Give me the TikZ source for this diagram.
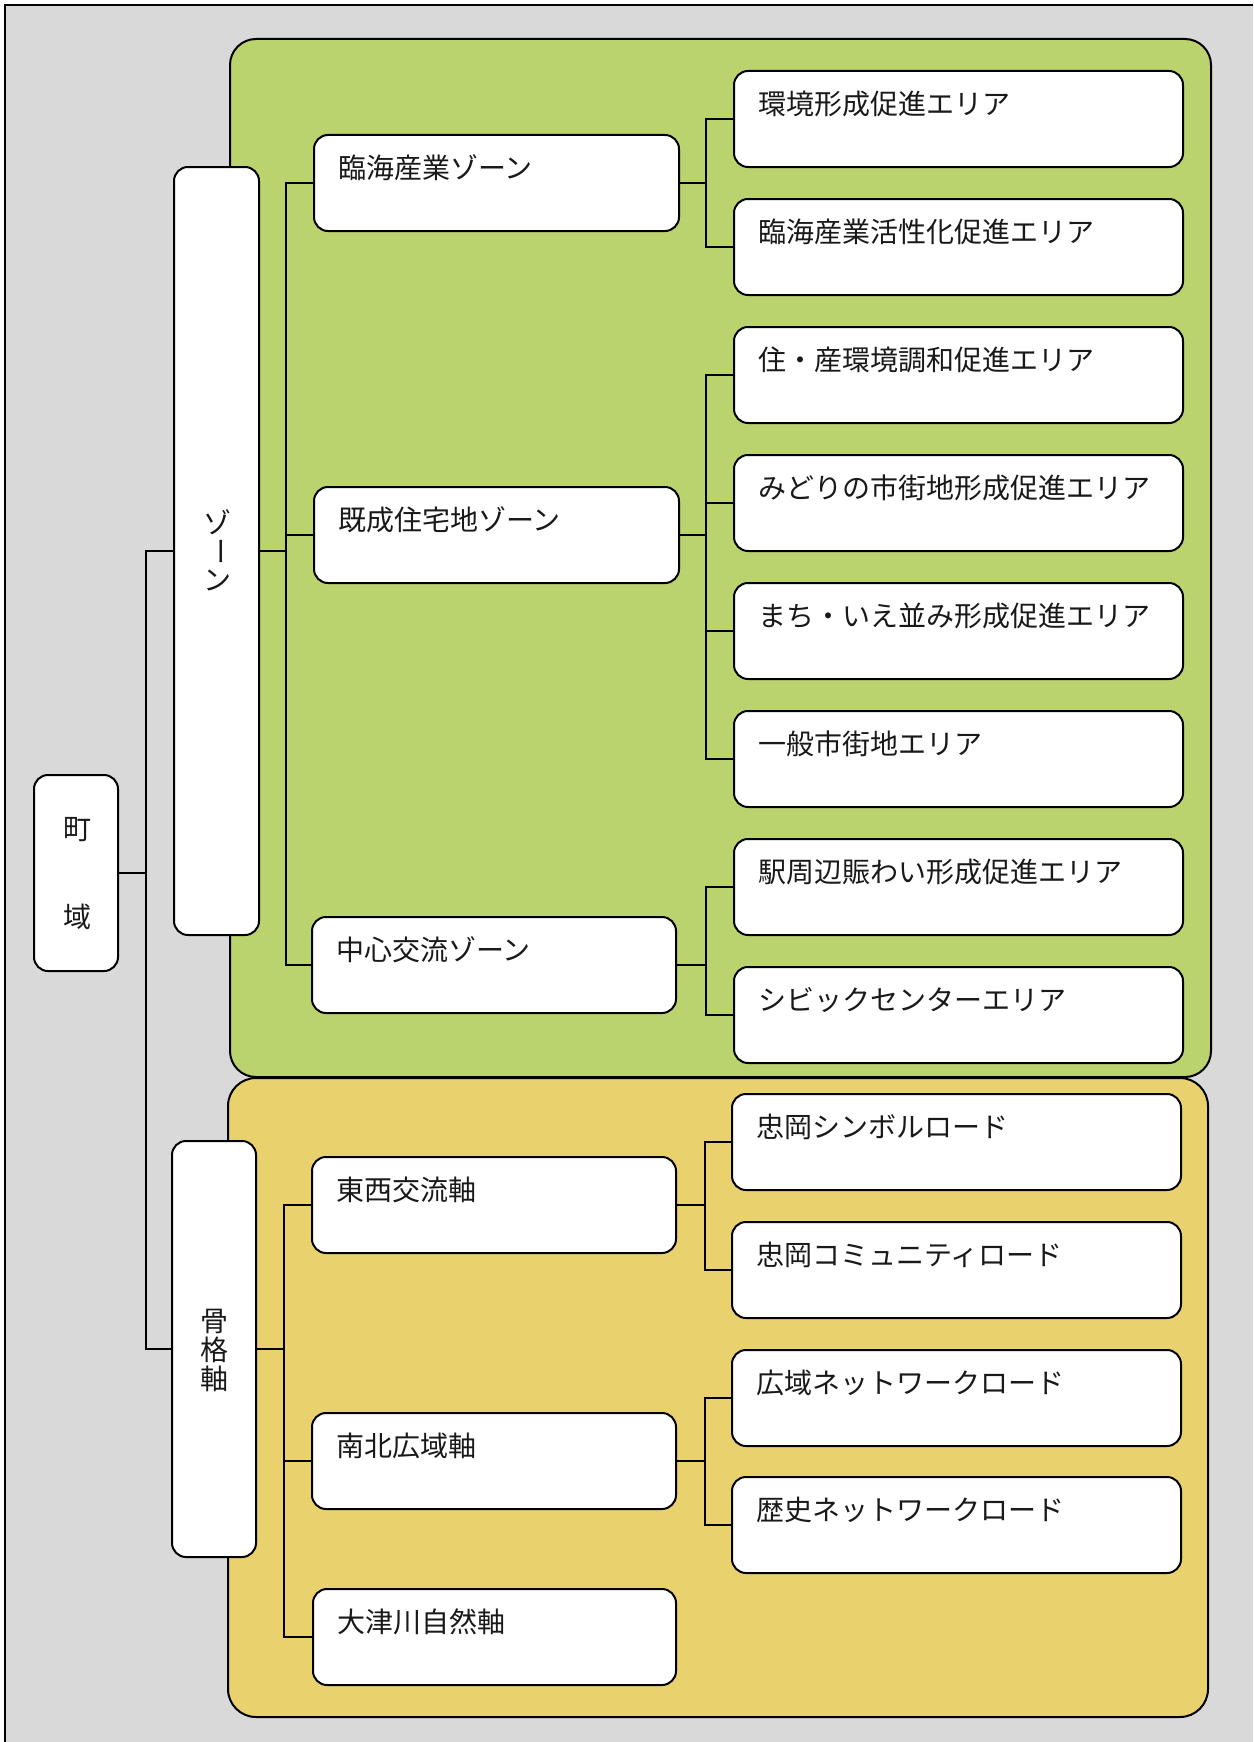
\documentclass[tikz,border=0pt]{standalone}
\usepackage{fontspec}
\newfontfamily\jp{Noto Sans CJK JP}
\definecolor{bggray}{RGB}{217,217,217}
\definecolor{zonegreen}{RGB}{187,211,110}
\definecolor{axisyellow}{RGB}{233,210,110}
\tikzset{
  bx/.style={draw=black, fill=white, line width=2pt, rounded corners=14pt, inner sep=0pt, outer sep=0pt, anchor=north west},
  lbl/.style={font=\jp\fontsize{28}{28}\selectfont, inner sep=0pt, anchor=west, text=black!90},
  vch/.style={font=\jp\fontsize{28}{28}\selectfont, inner sep=0pt, text=black!90},
  conn/.style={draw=black, line width=2pt},
  panel/.style={draw=black, line width=2pt},
}
\begin{document}
\begin{tikzpicture}[x=1pt,y=-1pt]
\useasboundingbox (0,0) rectangle (1253,1742);
% background
\fill[bggray] (5,5) rectangle (1253,1742);
\draw[line width=2.5pt] (5,1742) -- (5,5) -- (1253,5);
% panels
\draw[panel, fill=zonegreen, rounded corners=26pt] (230,39) rectangle (1211,1077);
\draw[panel, fill=axisyellow, rounded corners=28pt] (228,1078) rectangle (1208,1717);

% left column
\node[bx, minimum width=84pt, minimum height=196pt] (town) at (34,775) {};
\node[bx, minimum width=85pt, minimum height=768pt] (zone) at (174,167) {};
\node[bx, minimum width=84pt, minimum height=416pt] (kokaku) at (172,1141) {};
\node[vch] (t-town1) at (77,830) {町};
\node[vch] (t-town2) at (77,917) {域};
\node[vch] (t-zone1) at (217,522) {ゾ};
\node[vch, rotate=-90] (t-zone2) at (217,551) {ー};
\node[vch] (t-zone3) at (217,580) {ン};
\node[vch] (t-kok1) at (214,1321) {骨};
\node[vch] (t-kok2) at (214,1350) {格};
\node[vch] (t-kok3) at (214,1379) {軸};

% middle column
\node[bx, minimum width=365pt, minimum height=96pt] (m1) at (314,135) {};
\node[bx, minimum width=365pt, minimum height=96pt] (m2) at (314,487) {};
\node[bx, minimum width=364pt, minimum height=96pt] (m3) at (312,917) {};
\node[bx, minimum width=364pt, minimum height=96pt] (m4) at (312,1157) {};
\node[bx, minimum width=364pt, minimum height=96pt] (m5) at (312,1413) {};
\node[bx, minimum width=363pt, minimum height=96pt] (m6) at (313,1589) {};

% right column
\node[bx, minimum width=449pt, minimum height=96pt] (r1) at (734,71) {};
\node[bx, minimum width=449pt, minimum height=96pt] (r2) at (734,199) {};
\node[bx, minimum width=449pt, minimum height=96pt] (r3) at (734,327) {};
\node[bx, minimum width=449pt, minimum height=96pt] (r4) at (734,455) {};
\node[bx, minimum width=449pt, minimum height=96pt] (r5) at (734,583) {};
\node[bx, minimum width=449pt, minimum height=96pt] (r6) at (734,711) {};
\node[bx, minimum width=449pt, minimum height=96pt] (r7) at (734,839) {};
\node[bx, minimum width=449pt, minimum height=96pt] (r8) at (734,967) {};
\node[bx, minimum width=449pt, minimum height=96pt] (r9) at (732,1094) {};
\node[bx, minimum width=449pt, minimum height=96pt] (r10) at (732,1222) {};
\node[bx, minimum width=449pt, minimum height=96pt] (r11) at (732,1350) {};
\node[bx, minimum width=449pt, minimum height=96pt] (r12) at (732,1477) {};

% labels
\node[lbl] (tm1) at ([shift={(24,33)}]m1.north west) {臨海産業ゾーン};
\node[lbl] (tm2) at ([shift={(24,33)}]m2.north west) {既成住宅地ゾーン};
\node[lbl] (tm3) at ([shift={(24,33)}]m3.north west) {中心交流ゾーン};
\node[lbl] (tm4) at ([shift={(24,33)}]m4.north west) {東西交流軸};
\node[lbl] (tm5) at ([shift={(24,33)}]m5.north west) {南北広域軸};
\node[lbl] (tm6) at ([shift={(24,33)}]m6.north west) {大津川自然軸};
\node[lbl] (tr1) at ([shift={(24,33)}]r1.north west) {環境形成促進エリア};
\node[lbl] (tr2) at ([shift={(24,33)}]r2.north west) {臨海産業活性化促進エリア};
\node[lbl] (tr3) at ([shift={(24,33)}]r3.north west) {住・産環境調和促進エリア};
\node[lbl] (tr4) at ([shift={(24,33)}]r4.north west) {みどりの市街地形成促進エリア};
\node[lbl] (tr5) at ([shift={(24,33)}]r5.north west) {まち・いえ並み形成促進エリア};
\node[lbl] (tr6) at ([shift={(24,33)}]r6.north west) {一般市街地エリア};
\node[lbl] (tr7) at ([shift={(24,33)}]r7.north west) {駅周辺賑わい形成促進エリア};
\node[lbl] (tr8) at ([shift={(24,33)}]r8.north west) {シビックセンターエリア};
\node[lbl] (tr9) at ([shift={(24,33)}]r9.north west) {忠岡シンボルロード};
\node[lbl] (tr10) at ([shift={(24,33)}]r10.north west) {忠岡コミュニティロード};
\node[lbl] (tr11) at ([shift={(24,33)}]r11.north west) {広域ネットワークロード};
\node[lbl] (tr12) at ([shift={(24,33)}]r12.north west) {歴史ネットワークロード};

% junction coordinates
\coordinate (j0) at (146,873);
\coordinate (j1) at (286,551);
\coordinate (j2) at (706,183);
\coordinate (j3) at (706,535);
\coordinate (j4) at (706,965);
\coordinate (j5) at (284,1349);
\coordinate (j6) at (705,1205);
\coordinate (j7) at (705,1461);

% connectors
\draw[conn] (town.east) -- (j0);
\draw[conn] (zone.west) -| (j0);
\draw[conn] (kokaku.west) -| (j0);

\draw[conn] (zone.east) -- (j1);
\draw[conn] (m1.west) -| (j1);
\draw[conn] (m2.west) -| (j1);
\draw[conn] (m3.west) -| (j1);

\draw[conn] (m1.east) -- (j2);
\draw[conn] (r1.west) -| (j2);
\draw[conn] (r2.west) -| (j2);

\draw[conn] (m2.east) -- (j3);
\draw[conn] (r3.west) -| (j3);
\draw[conn] (r4.west) -| (j3);
\draw[conn] (r5.west) -| (j3);
\draw[conn] (r6.west) -| (j3);

\draw[conn] (m3.east) -- (j4);
\draw[conn] (r7.west) -| (j4);
\draw[conn] (r8.west) -| (j4);

\draw[conn] (kokaku.east) -- (j5);
\draw[conn] (m4.west) -| (j5);
\draw[conn] (m5.west) -| (j5);
\draw[conn] (m6.west) -| (j5);

\draw[conn] (m4.east) -- (j6);
\draw[conn] (r9.west) -| (j6);
\draw[conn] (r10.west) -| (j6);

\draw[conn] (m5.east) -- (j7);
\draw[conn] (r11.west) -| (j7);
\draw[conn] (r12.west) -| (j7);
\end{tikzpicture}
\end{document}
